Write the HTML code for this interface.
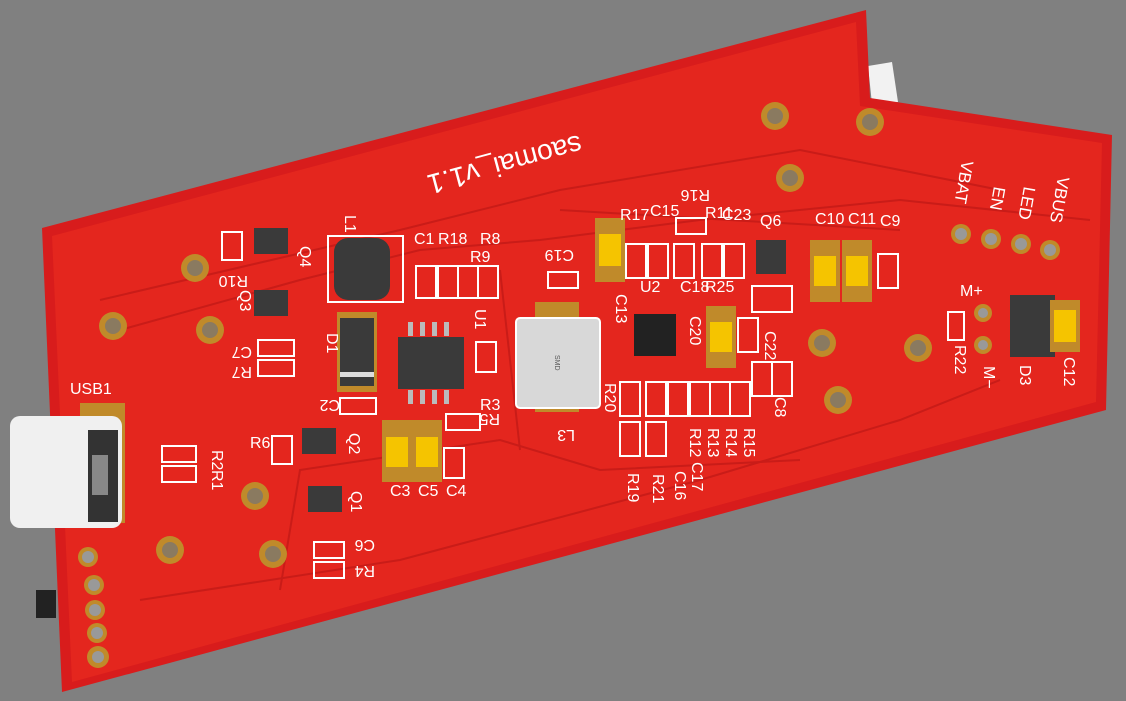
<!DOCTYPE html><html><head><style>body{margin:0;background:#808080}svg{display:block}text{font-family:"Liberation Sans",sans-serif;fill:#fff}</style></head><body>
<svg width="1126" height="701" viewBox="0 0 1126 701" xmlns="http://www.w3.org/2000/svg">
<rect width="1126" height="701" fill="#808080"/>
<polygon points="868,66 892,62 898,102 872,104" fill="#f2f2f2"/>
<polygon points="42,228 866,10 870,98 1112,135 1106,410 62,692" fill="#d81c1c"/>
<polygon points="52,236 856,22 860,106 1102,143 1096,402 72,682" fill="#e4261e"/>
<g fill="none" stroke="#c91c18" stroke-width="2">
<path d="M100,300 L400,230 L560,190 L800,150 L1000,190"/>
<path d="M120,330 L300,280 L420,250 L540,240 L700,220 L900,200 L1090,220"/>
<path d="M140,600 L400,560 L700,480 L900,420 L1000,380"/>
<path d="M280,590 L300,470 L500,440 L600,470 L800,460"/>
<path d="M500,270 L520,450 M560,210 L900,230"/>
</g>
<g fill="#c08a2a"><circle cx="195" cy="268" r="14"/><circle cx="113" cy="326" r="14"/><circle cx="210" cy="330" r="14"/><circle cx="255" cy="496" r="14"/><circle cx="170" cy="550" r="14"/><circle cx="273" cy="554" r="14"/><circle cx="775" cy="116" r="14"/><circle cx="870" cy="122" r="14"/><circle cx="790" cy="178" r="14"/><circle cx="822" cy="343" r="14"/><circle cx="918" cy="348" r="14"/><circle cx="838" cy="400" r="14"/></g>
<g fill="#8a7a60"><circle cx="195" cy="268" r="8"/><circle cx="113" cy="326" r="8"/><circle cx="210" cy="330" r="8"/><circle cx="255" cy="496" r="8"/><circle cx="170" cy="550" r="8"/><circle cx="273" cy="554" r="8"/><circle cx="775" cy="116" r="8"/><circle cx="870" cy="122" r="8"/><circle cx="790" cy="178" r="8"/><circle cx="822" cy="343" r="8"/><circle cx="918" cy="348" r="8"/><circle cx="838" cy="400" r="8"/></g>
<g fill="#c08a2a"><circle cx="961" cy="234" r="10"/><circle cx="991" cy="239" r="10"/><circle cx="1021" cy="244" r="10"/><circle cx="1050" cy="250" r="10"/><circle cx="983" cy="313" r="9"/><circle cx="983" cy="345" r="9"/><circle cx="88" cy="557" r="10"/><circle cx="94" cy="585" r="10"/><circle cx="95" cy="610" r="10"/><circle cx="97" cy="633" r="10"/><circle cx="98" cy="657" r="11"/></g>
<g fill="#999"><circle cx="961" cy="234" r="6"/><circle cx="991" cy="239" r="6"/><circle cx="1021" cy="244" r="6"/><circle cx="1050" cy="250" r="6"/><circle cx="983" cy="313" r="5"/><circle cx="983" cy="345" r="5"/><circle cx="88" cy="557" r="6"/><circle cx="94" cy="585" r="6"/><circle cx="95" cy="610" r="6"/><circle cx="97" cy="633" r="6"/><circle cx="98" cy="657" r="6"/></g>
<rect x="36" y="590" width="20" height="28" fill="#222"/>
<rect x="80" y="403" width="45" height="120" fill="#c08a2a"/>
<rect x="10" y="416" width="112" height="112" rx="10" fill="#f0f0f0"/>
<rect x="88" y="430" width="30" height="92" fill="#333"/>
<rect x="92" y="455" width="16" height="40" fill="#888"/>
<rect x="328" y="236" width="75" height="66" fill="none" stroke="#fff" stroke-width="2"/>
<rect x="334" y="238" width="56" height="62" rx="14" fill="#3a3a3a"/>
<rect x="535" y="302" width="44" height="110" fill="#c08a2a"/>
<rect x="516" y="318" width="84" height="90" rx="4" fill="#d8d8d8" stroke="#fff" stroke-width="2"/>
<text x="550" y="360" font-size="7" style="fill:#555" transform="rotate(90 555 360)">SMD</text>
<rect x="398" y="337" width="66" height="52" fill="#3a3a3a"/>
<g fill="#bbb"><rect x="408" y="322" width="5" height="14"/><rect x="420" y="322" width="5" height="14"/><rect x="432" y="322" width="5" height="14"/><rect x="444" y="322" width="5" height="14"/><rect x="408" y="390" width="5" height="14"/><rect x="420" y="390" width="5" height="14"/><rect x="432" y="390" width="5" height="14"/><rect x="444" y="390" width="5" height="14"/></g>
<rect x="337" y="312" width="40" height="80" fill="#c08a2a"/>
<rect x="340" y="318" width="34" height="68" fill="#3a3a3a"/>
<rect x="340" y="372" width="34" height="5" fill="#ddd"/>
<rect x="634" y="314" width="42" height="42" fill="#222"/>
<g fill="#3a3a3a"><rect x="254" y="228" width="34" height="26"/><rect x="254" y="290" width="34" height="26"/><rect x="302" y="428" width="34" height="26"/><rect x="308" y="486" width="34" height="26"/><rect x="756" y="240" width="30" height="34"/><rect x="1010" y="295" width="45" height="62"/></g>
<g fill="#c08a2a"><rect x="382" y="420" width="30" height="62"/><rect x="412" y="420" width="30" height="62"/><rect x="595" y="218" width="30" height="64"/><rect x="706" y="306" width="30" height="62"/><rect x="810" y="240" width="30" height="62"/><rect x="842" y="240" width="30" height="62"/><rect x="1050" y="300" width="30" height="52"/></g>
<g fill="#f5c400"><rect x="386" y="437" width="22" height="30"/><rect x="416" y="437" width="22" height="30"/><rect x="599" y="234" width="22" height="32"/><rect x="710" y="322" width="22" height="30"/><rect x="814" y="256" width="22" height="30"/><rect x="846" y="256" width="22" height="30"/><rect x="1054" y="310" width="22" height="32"/></g>
<g fill="none" stroke="#fff" stroke-width="2">
<rect x="416" y="266" width="20" height="32"/><rect x="438" y="266" width="20" height="32"/><rect x="458" y="266" width="20" height="32"/><rect x="478" y="266" width="20" height="32"/>
<rect x="222" y="232" width="20" height="28"/><rect x="258" y="340" width="36" height="16"/><rect x="258" y="360" width="36" height="16"/>
<rect x="340" y="398" width="36" height="16"/><rect x="476" y="342" width="20" height="30"/><rect x="446" y="414" width="34" height="16"/>
<rect x="272" y="436" width="20" height="28"/><rect x="162" y="446" width="34" height="16"/><rect x="162" y="466" width="34" height="16"/>
<rect x="444" y="448" width="20" height="30"/><rect x="314" y="542" width="30" height="16"/><rect x="314" y="562" width="30" height="16"/>
<rect x="548" y="272" width="30" height="16"/><rect x="626" y="244" width="20" height="34"/><rect x="648" y="244" width="20" height="34"/><rect x="674" y="244" width="20" height="34"/><rect x="702" y="244" width="20" height="34"/><rect x="724" y="244" width="20" height="34"/><rect x="676" y="218" width="30" height="16"/>
<rect x="752" y="286" width="40" height="26"/><rect x="738" y="318" width="20" height="34"/><rect x="878" y="254" width="20" height="34"/>
<rect x="620" y="382" width="20" height="34"/><rect x="646" y="382" width="20" height="34"/><rect x="668" y="382" width="20" height="34"/><rect x="690" y="382" width="20" height="34"/><rect x="710" y="382" width="20" height="34"/><rect x="730" y="382" width="20" height="34"/>
<rect x="620" y="422" width="20" height="34"/><rect x="646" y="422" width="20" height="34"/><rect x="752" y="362" width="20" height="34"/><rect x="772" y="362" width="20" height="34"/><rect x="948" y="312" width="16" height="28"/>
</g>
<g font-size="16">
<text x="505" y="175" font-size="28" text-anchor="middle" transform="rotate(165 505 165)">saomai_v1.1</text>
<text x="300" y="246" transform="rotate(90 300 246)">Q4</text>
<text x="228" y="266" transform="rotate(180 238 271)">R10</text>
<text x="230" y="300" transform="rotate(90 240 300)">Q3</text>
<text x="228" y="353" transform="rotate(180 240 350)">C7</text>
<text x="228" y="373" transform="rotate(180 240 370)">R7</text>
<text x="318" y="338" transform="rotate(90 325 340)">D1</text>
<text x="70" y="394">USB1</text>
<text x="310" y="410" transform="rotate(180 325 405)">C2</text>
<text x="250" y="448">R6</text>
<text x="338" y="436" transform="rotate(90 345 440)">Q2</text>
<text x="200" y="458" transform="rotate(90 210 460)">R2</text>
<text x="200" y="478" transform="rotate(90 210 480)">R1</text>
<text x="336" y="494" transform="rotate(90 345 500)">Q1</text>
<text x="390" y="496">C3</text><text x="418" y="496">C5</text><text x="446" y="496">C4</text>
<text x="345" y="540" transform="rotate(180 360 540)">C6</text>
<text x="345" y="566" transform="rotate(180 360 566)">R4</text>
<text x="480" y="410">R3</text><text x="480" y="426" transform="rotate(180 490 420)">R5</text>
<text x="466" y="318" transform="rotate(90 475 318)">U1</text>
<text x="340" y="220" transform="rotate(90 345 220)">L1</text>
<text x="414" y="244">C1</text><text x="438" y="244">R18</text><text x="480" y="244">R8</text><text x="470" y="262">R9</text>
<text x="546" y="262" transform="rotate(180 560 256)">C19</text>
<text x="555" y="440" transform="rotate(180 565 435)">L3</text>
<text x="608" y="298" transform="rotate(90 614 300)">C13</text>
<text x="640" y="292">U2</text><text x="680" y="292">C18</text><text x="705" y="292">R25</text>
<text x="620" y="220">R17</text><text x="650" y="216">C15</text><text x="680" y="200" transform="rotate(180 695 195)">R16</text><text x="705" y="218">R11</text><text x="722" y="220">C23</text>
<text x="760" y="226">Q6</text><text x="815" y="224">C10</text><text x="848" y="224">C11</text><text x="880" y="226">C9</text>
<text x="690" y="316" transform="rotate(90 690 316)">C20</text><text x="762" y="334" transform="rotate(90 765 334)">C22</text>
<text x="598" y="390" transform="rotate(90 605 390)">R20</text>
<text x="686" y="432" transform="rotate(90 690 432)">R12</text><text x="704" y="432" transform="rotate(90 708 432)">R13</text><text x="722" y="432" transform="rotate(90 726 432)">R14</text><text x="740" y="432" transform="rotate(90 744 432)">R15</text><text x="770" y="402" transform="rotate(90 775 402)">C8</text>
<text x="620" y="475" transform="rotate(90 625 478)">R19</text><text x="646" y="475" transform="rotate(90 650 478)">R21</text><text x="666" y="470" transform="rotate(90 670 475)">C16</text><text x="684" y="462" transform="rotate(90 688 466)">C17</text>
<text x="962" y="160" font-size="17" transform="rotate(100 962 160)">VBAT</text><text x="994" y="186" font-size="17" transform="rotate(100 994 186)">EN</text><text x="1024" y="186" font-size="17" transform="rotate(100 1024 186)">LED</text><text x="1058" y="176" font-size="17" transform="rotate(100 1058 176)">VBUS</text>
<text x="960" y="296">M+</text><text x="966" y="366" transform="rotate(90 975 375)">M−</text>
<text x="945" y="355" transform="rotate(90 955 355)">R22</text><text x="1010" y="375" transform="rotate(90 1020 375)">D3</text><text x="1056" y="365" transform="rotate(90 1064 365)">C12</text>
</g>
</svg></body></html>
